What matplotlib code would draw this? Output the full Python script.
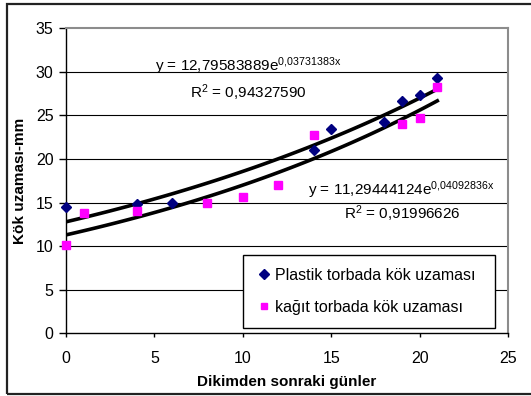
import numpy as np
import matplotlib
matplotlib.use('Agg')
import matplotlib.pyplot as plt
from matplotlib.patches import Rectangle

plt.rcParams['font.family'] = ['Liberation Sans', 'DejaVu Sans']
plt.rcParams['mathtext.default'] = 'regular'

# Plastik torba ölçümleri
gun_plastik = [0, 4, 6, 14, 15, 18, 19, 20, 21]
uzama_plastik = [14.5, 14.8, 15.0, 21.0, 23.5, 24.2, 26.7, 27.3, 29.3]

# Kağıt torba ölçümleri
gun_kagit = [0, 1, 4, 8, 10, 12, 14, 19, 20, 21]
uzama_kagit = [10.1, 13.85, 14.0, 15.0, 15.65, 17.0, 22.7, 24.0, 24.7, 28.3]

# Üstel eğilim çizgileri: y = a * exp(b * x)
a_plastik, b_plastik, r2_plastik = 12.79583889, 0.03731383, 0.94327590
a_kagit, b_kagit, r2_kagit = 11.29444124, 0.04092836, 0.91996626

fig = plt.figure(figsize=(5.31, 3.96), dpi=100)
ax = fig.add_axes([0.1243, 0.1583, 0.8324, 0.7702])

# dış çerçeve
fig.patches.append(Rectangle((0.0126, 0.005), 1.0, 0.984, transform=fig.transFigure,
                             fill=False, edgecolor='#222222', linewidth=1.6))

ax.set_xlim(0, 25)
ax.set_ylim(0, 35)
ax.set_xticks(range(0, 26, 5))
ax.set_yticks(range(0, 36, 5))
for y in range(5, 35, 5):
    ax.axhline(y, color='black', linewidth=0.8, zorder=1)

xs = np.linspace(0, 21, 100)
ax.plot(xs, a_plastik * np.exp(b_plastik * xs), color='black', linewidth=2.6, zorder=2)
ax.plot(xs, a_kagit * np.exp(b_kagit * xs), color='black', linewidth=2.6, zorder=2)

ax.plot(gun_plastik, uzama_plastik, linestyle='none', marker='D', markersize=5.5,
        color='#000080', label='Plastik torbada kök uzaması', zorder=3, clip_on=False)
ax.plot(gun_kagit, uzama_kagit, linestyle='none', marker='s', markersize=5.5,
        color='#FF00FF', label='kağıt torbada kök uzaması', zorder=3, clip_on=False)

def fmt(v):
    return f'{v:.8f}'.replace('.', '{,}')

ax.text(5.04, 30.1, 'y = ' + f'{a_plastik:.8f}'.replace('.', ',') + 'e$^{' + fmt(b_plastik) + 'x}$',
        fontsize=11, ha='left', va='baseline', zorder=4)
ax.text(7.0, 27.0, 'R$^{2}$ = ' + f'{r2_plastik:.8f}'.replace('.', ','),
        fontsize=11, ha='left', va='baseline', zorder=4)
ax.text(13.7, 15.9, 'y = ' + f'{a_kagit:.8f}'.replace('.', ',') + 'e$^{' + fmt(b_kagit) + 'x}$',
        fontsize=11, ha='left', va='baseline', zorder=4)
ax.text(15.7, 13.1, 'R$^{2}$ = ' + f'{r2_kagit:.8f}'.replace('.', ','),
        fontsize=11, ha='left', va='baseline', zorder=4)

for side in ['top', 'right']:
    ax.spines[side].set_color('#8c8c8c')
    ax.spines[side].set_linewidth(1.5)
for side in ['left', 'bottom']:
    ax.spines[side].set_color('black')
    ax.spines[side].set_linewidth(1.0)

ax.tick_params(axis='y', length=5, width=1, pad=4, labelsize=11.5)
ax.tick_params(axis='x', length=3, width=1, pad=10, labelsize=11.5)

ax.set_xlabel('Dikimden sonraki günler', fontsize=11, fontweight='bold', labelpad=6)
ax.set_ylabel('Kök uzaması-mm', fontsize=11, fontweight='bold', labelpad=6)

leg = ax.legend(loc='upper left', bbox_to_anchor=(0.40, 0.033, 0.57, 0.223), mode='expand',
                fontsize=11.5, frameon=True, fancybox=False, framealpha=1,
                edgecolor='black', handlelength=1.0, handletextpad=0.2,
                borderpad=0.8, labelspacing=1.05, borderaxespad=0, markerscale=0.85)
leg.get_frame().set_linewidth(1.0)
leg.set_zorder(5)

fig.savefig('out.png', dpi=100)
